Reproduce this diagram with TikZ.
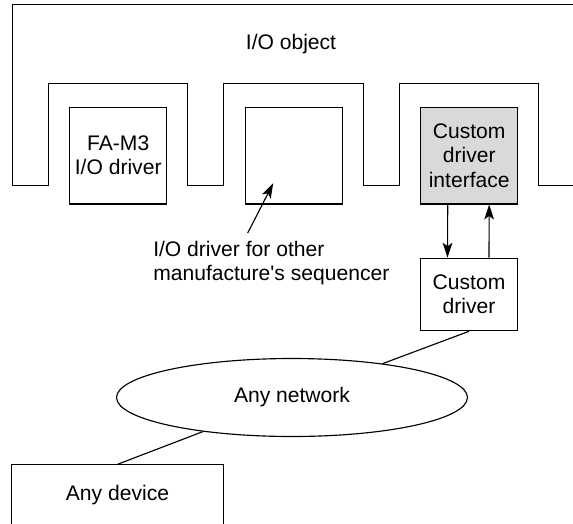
\documentclass[tikz,border=0pt]{standalone}
\usepackage{fontspec}
\setmainfont{Liberation Sans}
\usetikzlibrary{shapes.geometric, arrows.meta, calc}

\begin{document}
\begin{tikzpicture}[x=0.02cm, y=-0.02cm, line width=0.65pt,
    every node/.style={font=\fontsize{12}{13.7}\selectfont, align=center},
    drvbox/.style={draw, minimum width=1.94cm, minimum height=1.93cm, inner sep=0pt},
    arr/.style={-{Stealth[length=8.5pt, width=5.5pt, inset=2pt]}}]
    % Frame
    \path[use as bounding box] (0,0) rectangle (573,523);
    \clip (0,0) rectangle (573,523);

    % I/O object with its three slots
    \draw (573,185.7) -- (538.3,185.7) -- (538.3,83.3) -- (399.3,83.3) -- (399.3,185.7)
        -- (363.3,185.7) -- (363.3,83.3) -- (223.3,83.3) -- (223.3,185.7)
        -- (187.7,185.7) -- (187.7,83.3) -- (48.7,83.3) -- (48.7,185.7)
        -- (12.3,185.7) -- (12.3,4.3) -- (573,4.3);
    \node (obj) at (291,44) {I/O object};

    % Drivers
    \node[drvbox] (fam3) at (118.2,155.7) {FA-M3\\I/O driver};
    \node[drvbox] (other) at (294.2,155.7) {};
    \node[drvbox, fill=black!15] (iface) at (469.2,155.7) {Custom\\driver\\interface};
    \node[draw, minimum width=1.93cm, minimum height=1.45cm] (cdrv) at (469,294.5) {Custom\\driver};

    % Annotation
    \node[anchor=north west, align=left, inner sep=0pt] (txt) at (152.7,241) {I/O driver for other\\manufacture\textquotesingle s sequencer};
    \draw[arr] ($(txt.north west)+(95,-8)$) -- ($(other.center)+(-21,27.5)$);

    % Interface <-> driver
    \draw[arr] ([xshift=-0.43cm]iface.south) -- ([xshift=-0.43cm]cdrv.north);
    \draw[arr] ([xshift=0.4cm]cdrv.north) -- ([xshift=0.4cm]iface.south);

    % Network
    \node[draw, ellipse, minimum width=7.02cm, minimum height=1.56cm, inner sep=0pt] (net) at (292,397.5) {Any network};
    \draw (cdrv.south) -- (net);

    % Device (cut off at the bottom)
    \draw (11.7,530) -- (11.7,464.3) -- (223.3,464.3) -- (223.3,530);
    \node (dev) at (117.5,495) {Any device};
    \coordinate (devtop) at (117.5,464.3);
    \draw (net) -- (devtop);
\end{tikzpicture}
\end{document}
